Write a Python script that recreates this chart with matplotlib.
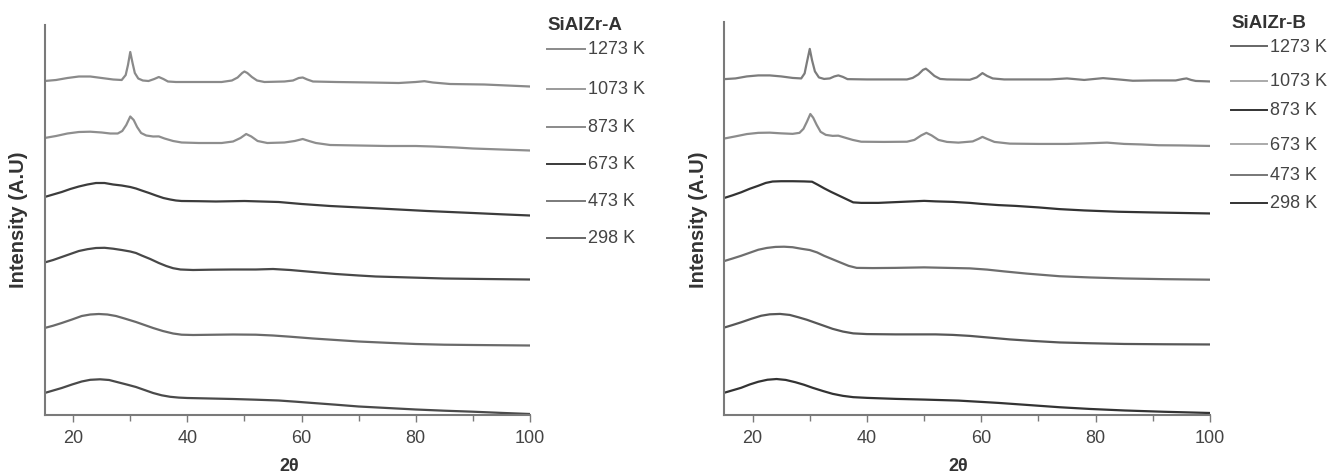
import matplotlib
matplotlib.use("Agg")
import matplotlib.pyplot as plt
from matplotlib.lines import Line2D

plt.rcParams["font.family"] = ["Liberation Sans", "DejaVu Sans"]

# ---------------------------------------------------------------------------
# Data: 2-theta (deg) and intensity (arbitrary, stacked)
# ---------------------------------------------------------------------------
temps = ["1273 K", "1073 K", "873 K", "673 K", "473 K", "298 K"]

# SiAlZr-A
a_1273_x = [15, 17, 19, 21, 23, 25, 27, 28.5, 29.2, 29.6, 30.0, 30.4, 30.8, 31.4, 32.2, 33.2, 34.2, 35,
            35.8, 36.6, 38, 42, 46, 47.8, 48.8, 49.6, 50, 50.5, 51.3, 52.2, 53.5, 57, 58.5, 59.5, 60.2,
            61, 62, 66, 72, 77, 80, 81.5, 83, 86, 92, 96, 100]
a_1273_y = [334, 335, 337, 338.5, 338.5, 337, 335.5, 335, 340, 350, 363, 352, 342, 336.5, 334.5, 334,
            336, 338, 336, 333.5, 333, 333, 333, 334.5, 337.5, 342, 343.5, 342, 338, 334.5, 333, 333.5,
            334.5, 337, 337.5, 335.5, 333.5, 333, 332.5, 332, 333, 333.8, 332.5, 331, 330.5, 329.5, 328.5]
a_1073_x = [15, 17, 19, 21, 23, 25, 26.5, 27.8, 28.6, 29.3, 30.0, 30.6, 31.2, 31.9, 32.8, 34, 35, 36,
            37.5, 39, 42, 46, 48, 49.3, 50.3, 51.2, 52.3, 54, 57, 58.8, 60.2, 61.3, 62.5, 65, 70, 75,
            80, 83, 87, 90, 95, 100]
a_1073_y = [277, 279, 281.5, 283, 283.3, 282.5, 281.5, 281.5, 284, 290, 298.5, 295, 288, 282, 279.5,
            278.5, 278.6, 276.5, 274, 272.5, 272, 272, 273.5, 277, 281, 278.5, 274, 272, 272.5, 274,
            276, 274, 272, 270, 269.5, 269, 269, 268.5, 267.5, 266.5, 265.5, 264.5]
a_873_x = [15, 16.5, 18, 19.5, 21, 22.5, 24, 25.5, 27, 28.5, 30, 31, 32, 33.3, 34.5, 35.8, 37, 38, 39,
           42, 45, 50, 53, 56, 58, 60, 62.5, 65, 68.5, 72, 77, 82, 86, 90, 95, 100]
a_873_y = [218, 220.5, 223, 226, 228.5, 230.5, 232, 232, 230.5, 229.5, 228, 226.5, 224.5, 222, 219.5,
           217, 215.5, 214.5, 214, 213.8, 213.5, 214, 213.5, 213, 212, 211, 210, 209, 208, 207, 205.5,
           204, 203, 202, 200.7, 199.5]
a_673_x = [15, 16.5, 18, 19.5, 21, 22.5, 24, 25.5, 27, 28.5, 30, 31, 32, 33.5, 35, 36.3, 37.5, 38.8,
           41, 44, 48, 52, 55, 58, 60, 63, 66, 70, 73, 79, 85, 92, 100]
a_673_y = [152.5, 155, 158, 161, 164, 165.8, 167, 167.2, 166.3, 165, 163.5, 162, 159.5, 156, 152, 149,
           146.8, 145.5, 145, 145.3, 145.5, 145.5, 146, 145, 144, 142.5, 141, 139.5, 138.5, 137.5,
           136.5, 136, 135.5]
a_473_x = [15, 16.5, 18, 19.8, 21.5, 23, 24.5, 26, 27.5, 29, 31, 32.5, 34, 35.7, 37.5, 39, 41, 45, 48,
           52, 55, 58, 62, 66, 70, 75, 80, 85, 90, 100]
a_473_y = [87, 89.3, 92, 95.5, 99, 100.5, 101, 100.5, 99, 96.5, 93, 90, 87, 84, 81.5, 80.3, 80, 80.3,
           80.5, 80.3, 79.5, 78.3, 76.5, 75, 73.5, 72.2, 71, 70.3, 70, 69.5]
a_298_x = [15, 16.5, 18, 19.8, 21.5, 23, 24.7, 26.3, 28, 29.5, 31, 32.5, 34, 35.5, 37, 38.5, 40, 44,
           48, 52, 56, 59, 62, 66, 70, 75, 80, 85, 90, 95, 100]
a_298_y = [22, 24.5, 27, 30.5, 33.5, 35.2, 35.7, 35, 32.5, 30.3, 28, 25, 22, 19.7, 18.2, 17.4, 17,
           16.5, 16, 15.3, 14.5, 13.3, 12, 10.3, 8.5, 7, 5.5, 4.3, 3.3, 2.1, 1]

# SiAlZr-B
b_1273_x = [15, 17, 19, 21, 23, 25, 27, 28.5, 29.1, 29.5, 30.0, 30.4, 30.9, 31.6, 32.5, 33.5, 34.3,
            35, 35.8, 36.6, 40, 44, 47, 48, 49, 49.8, 50.3, 50.9, 51.8, 52.8, 54, 58, 59.2, 60.2, 61,
            62, 64, 69, 72, 75, 78, 81.3, 84, 86.5, 90, 94, 95.3, 95.9, 96.7, 97.5, 100]
b_1273_y = [333.3, 334, 336, 337, 337, 336, 334.5, 334, 339, 350, 363.3, 352, 341, 335, 333.5, 334,
            336, 337, 335.5, 333.3, 333, 333, 333, 334.5, 338, 342.5, 343.7, 341, 336.5, 333.5, 333,
            332.7, 335, 339.3, 336.5, 334, 333, 333, 333, 334, 332.5, 334.3, 333, 331.7, 332, 332,
            333.5, 334, 332.5, 331.5, 331]
b_1073_x = [15, 17, 19, 21, 23, 25, 27, 28.2, 28.9, 29.5, 30.1, 30.6, 31.2, 31.9, 32.8, 34, 35, 36,
            37.5, 39, 43, 47, 48.3, 49.5, 50.4, 51.3, 52.5, 54, 56, 58.5, 59.5, 60.2, 61, 62.3, 65,
            70, 75, 78, 82, 85, 88, 91, 95, 100]
b_1073_y = [274.3, 276.5, 278.8, 280, 280.2, 279.5, 279, 280, 284, 291, 298.7, 295, 288, 281, 278,
            277, 277.2, 275.5, 273, 271.2, 271, 271.2, 273, 277.5, 280, 277.5, 273, 271, 270.3, 271.5,
            274, 276, 274, 271, 269.3, 269, 269, 269.5, 270.3, 269, 268.5, 267.7, 267.5, 267]
b_873_x = [15, 16.5, 18, 19.5, 21, 22.3, 23.5, 25, 27, 29, 30.4, 31.4, 32.5, 33.7, 35, 36.3, 37.6, 39,
           42, 46, 50, 52, 55, 58, 60, 63, 66, 70, 73.7, 78, 84, 90, 95, 100]
b_873_y = [215.3, 218, 221, 224.5, 227.5, 230.3, 231.7, 232, 232, 231.8, 231.5, 228.5, 225, 221.5, 218,
           214.5, 211, 210.5, 210.5, 211.5, 212.5, 212, 211.5, 210.5, 209.5, 208.3, 207.5, 206, 204.3,
           203, 201.7, 201, 200.5, 200]
b_673_x = [15, 16.5, 18, 19.5, 21, 22.5, 24, 25.5, 27, 28.5, 30, 31.3, 32.5, 34, 35.5, 36.8, 38.2, 41,
           45, 50, 54, 58, 61, 64, 68, 73.7, 79, 85, 92, 100]
b_673_y = [152.7, 155.3, 158, 161, 164, 165.8, 166.8, 167, 166.5, 165, 163.7, 161.3, 158, 154.5, 151,
           148, 146, 145.8, 146, 146.5, 146, 145.5, 144.3, 142.5, 140.3, 137.7, 136.5, 135.5, 134.8,
           134.3]
b_473_x = [15, 16.5, 18, 19.8, 21.5, 23, 24.8, 26.5, 28, 29.5, 31, 32.5, 34, 35.8, 37.6, 40, 45, 52,
           55, 58, 61, 65, 69, 73.7, 79, 85, 92, 100]
b_473_y = [86.7, 89.3, 92, 95.5, 98.5, 99.9, 100.3, 99.3, 97, 94.5, 91.5, 88.5, 85.5, 82.8, 81, 80.3,
           80, 80, 79.5, 78.5, 77, 75, 73.5, 72, 71.2, 70.5, 70.2, 70]
b_298_x = [15, 16.5, 18, 19.5, 21, 22.6, 24.2, 25.8, 27.5, 29, 30.5, 32.3, 34, 35.8, 37.6, 40, 45, 50,
           56, 60, 63, 68, 73.7, 79, 85, 92, 100]
b_298_y = [22, 24.5, 27, 30.3, 33, 35, 35.7, 34.8, 32.5, 30, 27, 23.8, 21, 19, 17.7, 17, 16, 15.3,
           14.3, 13, 12, 10, 7.7, 6, 4.5, 3.2, 2]

xticks = [20, 40, 60, 80, 100]

panels = [
    {
        "title": "SiAlZr-A",
        "series": [(a_1273_x, a_1273_y), (a_1073_x, a_1073_y), (a_873_x, a_873_y),
                   (a_673_x, a_673_y), (a_473_x, a_473_y), (a_298_x, a_298_y)],
        "colors": ["#8a8a8a", "#8e8e8e", "#3c3c3c", "#484848", "#6a6a6a", "#4a4a4a"],
        "leg_colors": ["#8a8a8a", "#9a9a9a", "#8a8a8a", "#3a3a3a", "#7a7a7a", "#666666"],
        "rect": [44.6, 26, 530, 416],
        "ylab_x": 19, "xlab_x": 289,
        "leg_x": 547, "leg_title_y": 25,
        "leg_y": [50, 90, 128, 165, 202, 239],
        "line_len": 38,
    },
    {
        "title": "SiAlZr-B",
        "series": [(b_1273_x, b_1273_y), (b_1073_x, b_1073_y), (b_873_x, b_873_y),
                   (b_673_x, b_673_y), (b_473_x, b_473_y), (b_298_x, b_298_y)],
        "colors": ["#7c7c7c", "#8c8c8c", "#333333", "#6e6e6e", "#575757", "#333333"],
        "leg_colors": ["#666666", "#aaaaaa", "#333333", "#aaaaaa", "#777777", "#333333"],
        "rect": [724, 23, 1210, 416],
        "ylab_x": 699, "xlab_x": 958,
        "leg_x": 1231, "leg_title_y": 23,
        "leg_y": [47, 82, 111, 145, 176, 204],
        "line_len": 36,
    },
]

W, H = 1336, 477
fig = plt.figure(figsize=(W / 100, H / 100), dpi=100)

for p in panels:
    x0, top, x1, bot = p["rect"]
    ax = fig.add_axes([x0 / W, 1 - bot / H, (x1 - x0) / W, (bot - top) / H])
    for (xs, ys), c in zip(p["series"], p["colors"]):
        ax.plot(xs, ys, color=c, lw=1.6, solid_joinstyle="round")
    ax.set_xlim(15, 100)
    ax.set_ylim(0, 390)
    ax.set_xticks(xticks)
    ax.set_xticks(range(30, 100, 20), minor=True)
    ax.set_yticks([])
    for s in ("top", "right"):
        ax.spines[s].set_visible(False)
    for s in ("left", "bottom"):
        ax.spines[s].set_color("#7a7a7a")
        ax.spines[s].set_linewidth(1.5)
    ax.tick_params(axis="x", which="both", direction="out", color="#7a7a7a", width=1.0,
                   labelsize=13, labelcolor="#444444", pad=5)
    ax.tick_params(axis="x", which="major", length=5)
    ax.tick_params(axis="x", which="minor", length=4)

    # axis titles, placed in figure pixels
    fig.text(p["xlab_x"] / W, 1 - 467 / H, "2\u03b8", fontsize=13, fontweight="bold",
             color="#333333", ha="center", va="center")
    fig.text(p["ylab_x"] / W, 1 - 220 / H, "Intensity (A.U)", fontsize=14.5, fontweight="bold",
             color="#333333", ha="center", va="center", rotation=90)

    # manual legend, placed in figure pixels
    lx = p["leg_x"]
    fig.text(lx / W, 1 - p["leg_title_y"] / H, p["title"], fontsize=13.5, fontweight="bold",
             color="#333333", va="center", ha="left")
    for ly, lab, c in zip(p["leg_y"], temps, p["leg_colors"]):
        fig.add_artist(Line2D([lx / W, (lx + p["line_len"]) / W], [1 - ly / H, 1 - ly / H],
                              color=c, lw=1.4, transform=fig.transFigure))
        fig.text((lx + p["line_len"] + 3) / W, 1 - ly / H, lab, fontsize=13,
                 color="#444444", va="center", ha="left")

fig.savefig("out.png", dpi=100)
